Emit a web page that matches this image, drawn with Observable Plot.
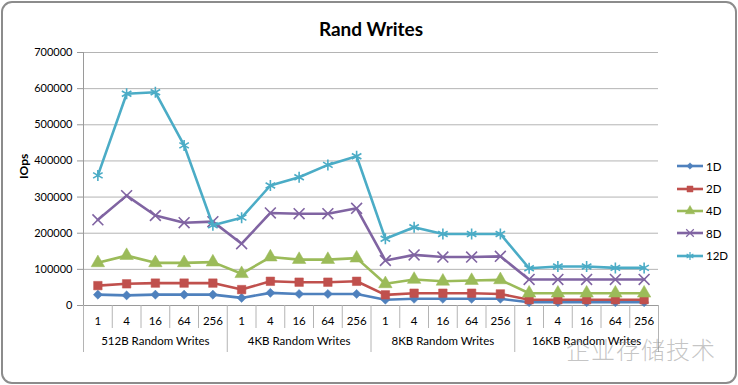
<!DOCTYPE html>
<html><head><meta charset="utf-8">
<script src="https://cdn.jsdelivr.net/npm/d3@7"></script>
<script src="https://cdn.jsdelivr.net/npm/@observablehq/plot@0.6"></script>
<style>
body{margin:0;background:#fff;}
#wrap{position:relative;width:738px;height:385px;overflow:hidden;font-family:Lato,sans-serif;background:#fff;}
#frame{position:absolute;left:1px;top:1px;width:732px;height:379px;border:2px solid #8c8c8c;border-radius:11px;pointer-events:none;}
#legend{position:absolute;left:676px;top:155px;}
.item{height:22.4px;display:flex;align-items:center;font-size:11.5px;color:#000;}
.item svg{margin-right:2px;}
#wm{position:absolute;left:566px;top:331px;font-family:"Noto Sans CJK SC",sans-serif;font-size:24px;color:rgba(140,140,140,0.5);font-weight:300;letter-spacing:1px;}
</style></head><body><div id="wrap"></div>
<script>
const title = "Rand Writes";
const yLabel = "IOps";
const groups = ["512B Random Writes", "4KB Random Writes", "8KB Random Writes", "16KB Random Writes"];
const sizes = ["1", "4", "16", "64", "256"];
const series = ["1D", "2D", "4D", "8D", "12D"];
const colors = ["#4F81BD", "#C0504D", "#9BBB59", "#8064A2", "#4BACC6"];
const yTicks = [0, 100000, 200000, 300000, 400000, 500000, 600000, 700000];

const v1D = [30000, 28000, 30000, 30000, 30000, 21000, 35000, 32000, 32000, 32000, 16000, 18500, 18500, 18500, 18500, 9000, 9000, 9000, 9000, 9000];
const v2D = [55000, 60000, 62000, 62000, 62000, 44000, 67000, 64500, 64500, 67000, 29500, 34000, 34000, 34000, 32000, 16000, 16000, 16000, 16000, 16000];
const v4D = [118000, 138000, 118000, 118000, 120000, 88000, 134000, 127000, 127000, 131000, 60000, 72000, 67000, 69000, 71000, 34000, 34000, 34000, 34000, 34000];
const v8D = [237000, 304000, 249000, 229000, 232000, 171000, 256000, 254000, 254000, 269000, 124500, 140000, 134000, 134000, 136000, 72000, 72000, 72000, 72000, 72000];
const v12D = [360000, 586000, 590000, 443000, 222000, 243000, 332000, 355000, 389000, 413000, 184500, 216500, 198000, 198000, 198000, 103000, 108000, 108000, 104000, 104000];
const values = [v1D, v2D, v4D, v8D, v12D];

const symbols = ["diamond2", "square", "triangle", "times", "asterisk"];
const d3symbols = [d3.symbolDiamond2, d3.symbolSquare, d3.symbolTriangle, d3.symbolTimes, d3.symbolAsterisk];
const radii = [4.1, 4.8, 5, 5, 5.2];
const filled = [true, true, true, false, false];

const nCat = groups.length * sizes.length;
const table = series.flatMap((s, k) => values[k].map((v, i) => ({series: s, i, value: v})));
const boundaries = d3.range(nCat + 1).map(j => ({j, x: j - 0.5}));

const seriesMarks = series.flatMap((s, k) => [
  Plot.line(table, {filter: d => d.series === s, x: "i", y: "value", stroke: colors[k], strokeWidth: 2.6}),
  Plot.dot(table, {filter: d => d.series === s, x: "i", y: "value", symbol: () => symbols[k], r: radii[k],
    fill: filled[k] ? colors[k] : "none", stroke: colors[k], strokeWidth: filled[k] ? 0.5 : 1.6})
]);

const chart = Plot.plot({
  width: 738, height: 385,
  marginLeft: 83, marginRight: 80, marginTop: 52, marginBottom: 80,
  style: {fontFamily: "Lato, sans-serif", fontSize: "11px", color: "#000", background: "transparent"},
  x: {type: "linear", domain: [-0.5, nCat - 0.5], axis: null},
  y: {domain: [0, 700000], axis: null},
  symbol: {type: "identity"},
  marks: [
    Plot.gridY(yTicks, {stroke: "#b4b4b4", strokeOpacity: 1}),
    Plot.axisY(yTicks, {tickSize: 6, tickPadding: 5, tickFormat: d3.format("d"), stroke: "#999", label: null, fontSize: 11}),
    Plot.ruleX([-0.5], {stroke: "#9a9a9a"}),
    Plot.ruleY([0], {stroke: "#9a9a9a"}),
    Plot.ruleX(boundaries.filter(d => d.j % sizes.length !== 0), {x: "x", insetTop: 253, insetBottom: -23, stroke: "#b4b4b4"}),
    Plot.ruleX(boundaries.filter(d => d.j % sizes.length === 0), {x: "x", insetTop: 253, insetBottom: -47, stroke: "#b4b4b4"}),
    Plot.axisX(d3.range(nCat), {tickSize: 0, tickPadding: 11, tickFormat: i => sizes[i % sizes.length], label: null, fontSize: 11.5}),
    Plot.text(groups, {x: (d, k) => k * sizes.length + (sizes.length - 1) / 2, text: d => d, frameAnchor: "bottom", dy: 39, fontSize: 11.5}),
    Plot.text([title], {text: d => d, frameAnchor: "top", dy: -30, fontSize: 19, fontWeight: "bold"}),
    Plot.text([yLabel], {text: d => d, frameAnchor: "left", dx: -59, rotate: -90, fontSize: 12, fontWeight: "bold"}),
    ...seriesMarks
  ]
});

const wrap = document.getElementById("wrap");
wrap.appendChild(chart);

const leg = d3.select(wrap).append("div").attr("id", "legend");
series.forEach((s, k) => {
  const it = leg.append("div").attr("class", "item");
  const svg = it.append("svg").attr("width", 28).attr("height", 14);
  svg.append("line").attr("x1", 1).attr("x2", 27).attr("y1", 7).attr("y2", 7)
    .attr("stroke", colors[k]).attr("stroke-width", 2.6);
  svg.append("path").attr("transform", "translate(14,7)")
    .attr("d", d3.symbol(d3symbols[k], Math.PI * radii[k] * radii[k] * 0.5)())
    .attr("fill", filled[k] ? colors[k] : "none").attr("stroke", colors[k]).attr("stroke-width", filled[k] ? 0.5 : 1.2);
  it.append("span").text(s);
});

d3.select(wrap).append("div").attr("id", "wm").text("企业存储技术");
d3.select(wrap).append("div").attr("id", "frame");
</script>
</body></html>
